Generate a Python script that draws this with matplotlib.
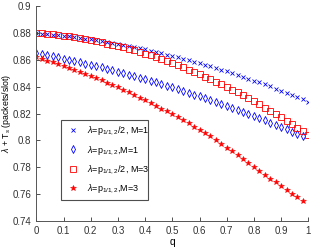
import matplotlib
matplotlib.use("Agg")
import matplotlib.pyplot as plt

plt.rcParams['font.family'] = ['Liberation Sans', 'DejaVu Sans']
plt.rcParams['mathtext.fontset'] = 'custom'
plt.rcParams['mathtext.rm'] = 'Liberation Sans'
plt.rcParams['mathtext.it'] = 'Liberation Sans:italic'

# q grids (two series stop one step early)
q_full = [i / 50 for i in range(51)]
q_short = [i / 50 for i in range(50)]

half_m1 = [0.8800, 0.8796, 0.8793, 0.8789, 0.8784, 0.8780, 0.8775, 0.8770, 0.8764, 0.8758,
           0.8752, 0.8746, 0.8740, 0.8733, 0.8726, 0.8718, 0.8711, 0.8703, 0.8695, 0.8686,
           0.8678, 0.8669, 0.8659, 0.8650, 0.8640, 0.8630, 0.8620, 0.8609, 0.8598, 0.8587,
           0.8576, 0.8564, 0.8552, 0.8540, 0.8527, 0.8514, 0.8501, 0.8488, 0.8474, 0.8461,
           0.8446, 0.8432, 0.8417, 0.8402, 0.8387, 0.8372, 0.8356, 0.8340, 0.8323, 0.8307,
           0.8290]
full_m1 = [0.8650, 0.8642, 0.8634, 0.8626, 0.8618, 0.8609, 0.8601, 0.8591, 0.8582, 0.8573,
           0.8563, 0.8554, 0.8544, 0.8533, 0.8523, 0.8512, 0.8502, 0.8491, 0.8479, 0.8468,
           0.8456, 0.8444, 0.8432, 0.8420, 0.8408, 0.8395, 0.8382, 0.8369, 0.8356, 0.8342,
           0.8329, 0.8315, 0.8301, 0.8286, 0.8272, 0.8257, 0.8242, 0.8227, 0.8212, 0.8196,
           0.8181, 0.8165, 0.8149, 0.8132, 0.8116, 0.8099, 0.8082, 0.8065, 0.8047, 0.8030]
half_m3 = [0.8800, 0.8797, 0.8794, 0.8790, 0.8785, 0.8780, 0.8775, 0.8769, 0.8762, 0.8755,
           0.8748, 0.8740, 0.8731, 0.8722, 0.8713, 0.8703, 0.8693, 0.8682, 0.8670, 0.8658,
           0.8646, 0.8633, 0.8619, 0.8605, 0.8591, 0.8576, 0.8561, 0.8545, 0.8528, 0.8511,
           0.8494, 0.8476, 0.8457, 0.8438, 0.8419, 0.8399, 0.8379, 0.8358, 0.8336, 0.8314,
           0.8292, 0.8269, 0.8245, 0.8222, 0.8197, 0.8172, 0.8147, 0.8121, 0.8094, 0.8067,
           0.8040]
full_m3 = [0.8620, 0.8608, 0.8595, 0.8582, 0.8569, 0.8555, 0.8541, 0.8527, 0.8512, 0.8496,
           0.8480, 0.8464, 0.8448, 0.8431, 0.8413, 0.8395, 0.8377, 0.8359, 0.8339, 0.8320,
           0.8300, 0.8280, 0.8259, 0.8238, 0.8217, 0.8195, 0.8173, 0.8150, 0.8127, 0.8103,
           0.8079, 0.8055, 0.8030, 0.8000, 0.7973, 0.7946, 0.7919, 0.7891, 0.7863, 0.7834,
           0.7805, 0.7776, 0.7746, 0.7716, 0.7688, 0.7660, 0.7632, 0.7604, 0.7576, 0.7548]

labels = [r'$\lambda$=p$_{1/1,2}$/2, M=1',
          r'$\lambda$=p$_{1/1,2}$,M=1',
          r'$\lambda$=p$_{1/1,2}$/2, M=3',
          r'$\lambda$=p$_{1/1,2}$,M=3']

xticks = [0, 0.1, 0.2, 0.3, 0.4, 0.5, 0.6, 0.7, 0.8, 0.9, 1]
xticklabels = ['0', '0.1', '0.2', '0.3', '0.4', '0.5', '0.6', '0.7', '0.8', '0.9', '1']
yticks = [0.74, 0.76, 0.78, 0.8, 0.82, 0.84, 0.86, 0.88, 0.9]
yticklabels = ['0.74', '0.76', '0.78', '0.8', '0.82', '0.84', '0.86', '0.88', '0.9']

fig = plt.figure(figsize=(3.13, 2.47), dpi=100)
ax = fig.add_axes([0.116, 0.105, 0.869, 0.87])

ax.plot(q_full, half_m1, 'x', color='blue', markersize=2.5, markeredgewidth=0.6, label=labels[0])
ax.plot(q_short, full_m1, 'd', color='blue', markerfacecolor='none', markersize=4.2,
        markeredgewidth=0.6, label=labels[1])
ax.plot(q_full, half_m3, 's', color='red', markerfacecolor='none', markersize=5,
        markeredgewidth=0.6, label=labels[2])
ax.plot(q_short, full_m3, '*', color='red', markersize=3.8, markeredgewidth=0.4, label=labels[3])

ax.set_xlim(0, 1)
ax.set_ylim(0.74, 0.9)
ax.set_xticks(xticks)
ax.set_xticklabels(xticklabels)
ax.set_yticks(yticks)
ax.set_yticklabels(yticklabels)
ax.tick_params(direction='in', length=3, width=0.6, labelsize=7, colors='#333333')
for s in ['top', 'right']:
    ax.spines[s].set_visible(False)
for s in ['left', 'bottom']:
    ax.spines[s].set_color('#555555')
    ax.spines[s].set_linewidth(0.7)

ax.set_xlabel('q', fontsize=7.5, labelpad=1)
ax.set_ylabel(r'$\lambda$ + T$_s$ (packets/slot)', fontsize=6.3, labelpad=0)

leg = ax.legend(loc='lower left', bbox_to_anchor=(0.076, 0.078, 0.35, 0.315), mode='expand',
                fontsize=6.5, frameon=True, fancybox=False, borderpad=0.5,
                handlelength=1.5, labelspacing=0.75, handletextpad=0.8)
leg.get_frame().set_edgecolor('#222222')
leg.get_frame().set_linewidth(0.8)

fig.savefig('out.png', dpi=100)
